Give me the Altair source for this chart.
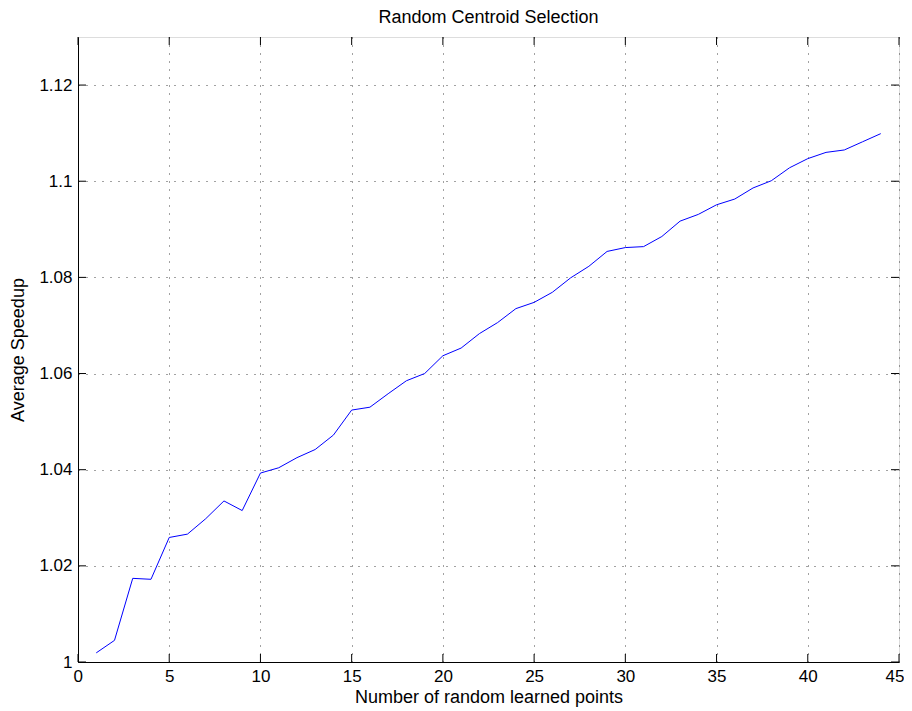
import altair as alt
import pandas as pd

points = list(range(1, 45))
speedup = [1.0019, 1.0045, 1.0174, 1.0172, 1.0259, 1.0266, 1.0298, 1.0335, 1.0315, 1.0393,
           1.0404, 1.0425, 1.0442, 1.0472, 1.0524, 1.0530, 1.0558, 1.0585, 1.0600, 1.0637,
           1.0653, 1.0683, 1.0706, 1.0735, 1.0748, 1.0769, 1.0799, 1.0823, 1.0854, 1.0862,
           1.0864, 1.0885, 1.0917, 1.0931, 1.0951, 1.0963, 1.0986, 1.1001, 1.1028, 1.1047,
           1.1060, 1.1065, 1.1082, 1.1099]
x_ticks = [0, 5, 10, 15, 20, 25, 30, 35, 40, 45]
y_ticks = [1.0, 1.02, 1.04, 1.06, 1.08, 1.10, 1.12]

W, H = 821, 625
FONT = "Liberation Sans"
TL = 8
LABEL_SIZE = 17
TITLE_SIZE = 18

df = pd.DataFrame({"x": points, "y": speedup})
xt = pd.DataFrame({"x": x_ticks})
yt = pd.DataFrame({"y": y_ticks})

xscale = alt.Scale(domain=[0, 45], nice=False, zero=False)
yscale = alt.Scale(domain=[1.0, 1.13], nice=False, zero=False)

grid_dash = [1, 7]

line = alt.Chart(df).mark_line(color="#0000ff", strokeWidth=1).encode(
    x=alt.X("x:Q", scale=xscale,
            axis=alt.Axis(values=x_ticks, title="Number of random learned points",
                          grid=True, gridDash=grid_dash, gridColor="#444", gridOpacity=1,
                          tickSize=0, labelPadding=6, labelFontSize=LABEL_SIZE, labelFont=FONT,
                          labelColor="black", titleFont=FONT, titleFontSize=TITLE_SIZE,
                          titleFontWeight="normal", titleColor="black",
                          titleY=35, titleBaseline="middle", domainColor="black",
                          labelFlush=True, labelFlushOffset=5)),
    y=alt.Y("y:Q", scale=yscale,
            axis=alt.Axis(values=y_ticks, title="Average Speedup", format="~g",
                          grid=True, gridDash=grid_dash, gridColor="#444", gridOpacity=1,
                          tickSize=0, labelPadding=6, labelFontSize=LABEL_SIZE, labelFont=FONT,
                          labelColor="black", titleFont=FONT, titleFontSize=TITLE_SIZE,
                          titleFontWeight="normal", titleColor="black",
                          titleX=-60, titleY=H / 2, titleAngle=270,
                          titleBaseline="middle", titleAlign="center",
                          domainColor="black", labelFlush=False)),
)

xb = alt.Chart(xt).mark_rule(color="black").encode(
    x=alt.X("x:Q", scale=xscale), y=alt.value(H), y2=alt.value(H - TL))
xtop = alt.Chart(xt).mark_rule(color="black").encode(
    x=alt.X("x:Q", scale=xscale), y=alt.value(0), y2=alt.value(TL))
yl = alt.Chart(yt).mark_rule(color="black").encode(
    y=alt.Y("y:Q", scale=yscale), x=alt.value(0), x2=alt.value(TL))
yr = alt.Chart(yt).mark_rule(color="black").encode(
    y=alt.Y("y:Q", scale=yscale), x=alt.value(W - TL), x2=alt.value(W))

chart = alt.layer(line, xb, xtop, yl, yr).properties(
    width=W, height=H,
    title=alt.TitleParams("Random Centroid Selection", font=FONT, fontSize=TITLE_SIZE,
                          fontWeight="normal", color="black", offset=10, anchor="middle"),
    autosize=alt.AutoSizeParams(type="none"),
    padding={"left": 70, "top": 29, "right": 5, "bottom": 48},
).configure_view(stroke="black", strokeWidth=1).configure(background="white")

chart.save("out.html", embed_options={"renderer": "svg", "actions": False})
